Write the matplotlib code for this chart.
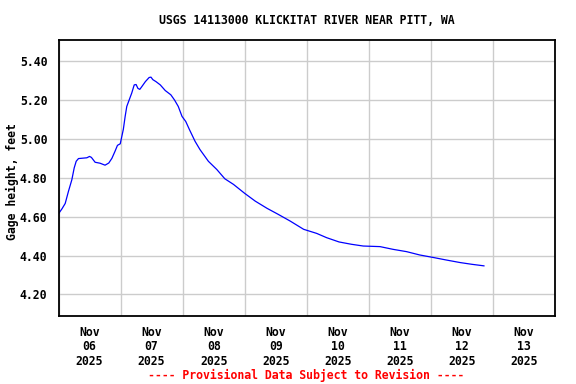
import numpy as np
import pandas as pd
import matplotlib
matplotlib.use("Agg")
import matplotlib.pyplot as plt

# -------------------------------------------------------
# DATA
# -------------------------------------------------------
# days since 2025-11-06 00:00
day_offset = [0.0, 0.055, 0.108, 0.16, 0.215, 0.253, 0.285, 0.322, 0.457, 0.50,
              0.53, 0.59, 0.67, 0.75, 0.81, 0.86, 0.91, 0.95, 0.995, 1.045,
              1.074, 1.10, 1.13, 1.18, 1.22, 1.25, 1.28, 1.31, 1.34, 1.40,
              1.46, 1.49, 1.52, 1.57, 1.64, 1.72, 1.81, 1.87, 1.93, 1.99,
              2.05, 2.11, 2.20, 2.28, 2.415, 2.55, 2.68, 2.82, 3.0, 3.17,
              3.36, 3.54, 3.73, 3.95, 4.16, 4.32, 4.52, 4.72, 4.91, 5.18,
              5.39, 5.61, 5.82, 6.04, 6.25, 6.47, 6.66, 6.855]
gage_ft = [4.615, 4.64, 4.668, 4.73, 4.79, 4.851, 4.885, 4.899, 4.903, 4.91,
           4.905, 4.88, 4.875, 4.865, 4.876, 4.90, 4.936, 4.967, 4.975, 5.05,
           5.116, 5.167, 5.193, 5.236, 5.278, 5.28, 5.26, 5.255, 5.268, 5.295,
           5.316, 5.318, 5.305, 5.295, 5.278, 5.249, 5.227, 5.20, 5.167, 5.116,
           5.09, 5.048, 4.988, 4.945, 4.885, 4.843, 4.795, 4.766, 4.72, 4.68,
           4.643, 4.612, 4.578, 4.535, 4.514, 4.492, 4.47, 4.458, 4.449, 4.446,
           4.432, 4.42, 4.403, 4.39, 4.377, 4.364, 4.355, 4.347]

day_labels = ["Nov\n06\n2025", "Nov\n07\n2025", "Nov\n08\n2025", "Nov\n09\n2025",
              "Nov\n10\n2025", "Nov\n11\n2025", "Nov\n12\n2025", "Nov\n13\n2025"]
y_ticks = [4.20, 4.40, 4.60, 4.80, 5.00, 5.20, 5.40]

TITLE = "USGS 14113000 KLICKITAT RIVER NEAR PITT, WA"
FOOTER = "---- Provisional Data Subject to Revision ----"
YLABEL = "Gage height, feet"

# -------------------------------------------------------
# PLOT
# -------------------------------------------------------
plt.rcParams["font.family"] = "DejaVu Sans Mono"
plt.rcParams["font.weight"] = "bold"
FS = 8.3

fig = plt.figure(figsize=(5.76, 3.84), dpi=100)
ax = fig.add_axes([58.5 / 576, 1 - 316 / 384, (555 - 58.5) / 576, (316 - 40) / 384])

ax.plot(day_offset, gage_ft, color="#0000ff", linewidth=0.9)

ax.set_xlim(0, 8)
ax.set_ylim(4.089, 5.509)

ax.set_xticks(np.arange(0, 9, 1))
ax.set_xticklabels([])
ax.set_xticks(np.arange(len(day_labels)) + 0.5, minor=True)
ax.set_xticklabels(day_labels, minor=True, fontsize=FS, fontweight="bold",
                   linespacing=1.15)
ax.tick_params(axis="x", which="both", length=0, pad=7)

ax.set_yticks(y_ticks)
ax.set_yticklabels([f"{v:.2f}" for v in y_ticks], fontsize=FS, fontweight="bold")
ax.tick_params(axis="y", length=0, pad=8)

ax.grid(True, which="major", color="#cccccc", linewidth=1.0)
ax.set_axisbelow(True)
for s in ax.spines.values():
    s.set_linewidth(1.3)
    s.set_color("black")

fig.text(12 / 576, 1 - 182 / 384, YLABEL, rotation=90, ha="center", va="center",
         fontsize=FS, fontweight="bold")
fig.text(306.5 / 576, 1 - 20 / 384, TITLE, ha="center", va="center",
         fontsize=FS, fontweight="bold")
fig.text(306.5 / 576, 1 - 375 / 384, FOOTER, ha="center", va="center",
         fontsize=FS, fontweight="bold", color="red")

fig.savefig("out.png", dpi=100)
